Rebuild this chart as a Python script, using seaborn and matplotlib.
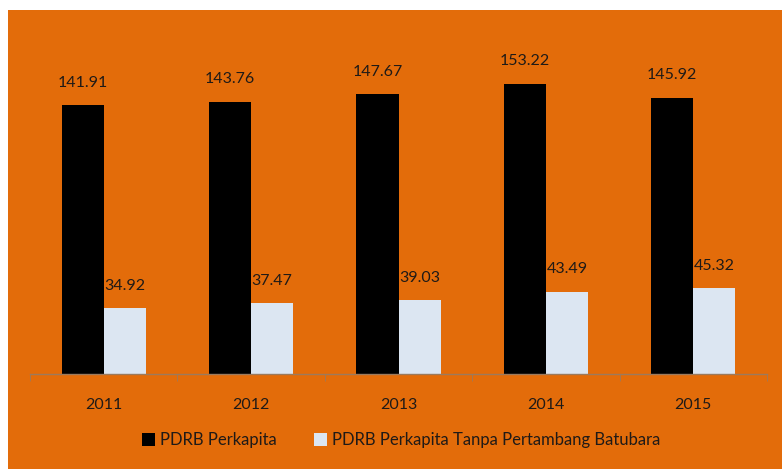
import pandas as pd
import seaborn as sns
import matplotlib.pyplot as plt
from matplotlib.patches import Rectangle

years = ["2011", "2012", "2013", "2014", "2015"]
pdrb = [141.91, 143.76, 147.67, 153.22, 145.92]
pdrb_tanpa = [34.92, 37.47, 39.03, 43.49, 45.32]
series = ["PDRB Perkapita", "PDRB Perkapita Tanpa Pertambang Batubara"]

df = pd.DataFrame({
    "Tahun": years * 2,
    "Nilai": pdrb + pdrb_tanpa,
    "Seri": [series[0]] * len(years) + [series[1]] * len(years),
})

sns.set_style("white")
plt.rcParams["font.family"] = ["Lato", "DejaVu Sans"]

orange = "#E36C0A"
text_col = "#1f1a17"

fig = plt.figure(figsize=(7.82, 4.69), dpi=100, facecolor="white")
bg = Rectangle((8 / 782, 0), 1, 1 - 10 / 469, transform=fig.transFigure,
               facecolor=orange, edgecolor="none", zorder=-10)
fig.add_artist(bg)
ax = fig.add_axes([30 / 782, 1 - 374 / 469, 737 / 782, 341 / 469])
ax.set_facecolor("none")
ax.set_zorder(5)

sns.barplot(data=df, x="Tahun", y="Nilai", hue="Seri", palette=["black", "#DCE6F2"],
            width=0.57, saturation=1, linewidth=0, edgecolor="none", ax=ax, legend=True)

for cont in ax.containers:
    ax.bar_label(cont, fmt="%.2f", padding=11, fontsize=11.5, color=text_col)

ax.set_ylim(0, 180)
ax.set_xlim(-0.5, 4.5)
ax.set_xlabel("")
ax.set_ylabel("")
ax.set_yticks([])
for s in ["top", "right", "left"]:
    ax.spines[s].set_visible(False)
ax.spines["bottom"].set_color("#9c7a5c")
ax.spines["bottom"].set_linewidth(1)
ax.set_xticks([i - 0.5 for i in range(6)], minor=True)
ax.tick_params(axis="x", which="major", length=0, pad=17, labelsize=11.5, labelcolor=text_col)
ax.tick_params(axis="x", which="minor", length=5, direction="out", color="#9c7a5c", bottom=True)

leg = ax.legend(loc="center", bbox_to_anchor=(0.513, 1 - 440 / 469), bbox_transform=fig.transFigure,
                ncol=2, frameon=False, fontsize=12, handlelength=0.8, handleheight=0.8,
                columnspacing=2.2, handletextpad=0.3)
for t in leg.get_texts():
    t.set_color(text_col)

fig.savefig("out.png", dpi=100, facecolor=fig.get_facecolor())
